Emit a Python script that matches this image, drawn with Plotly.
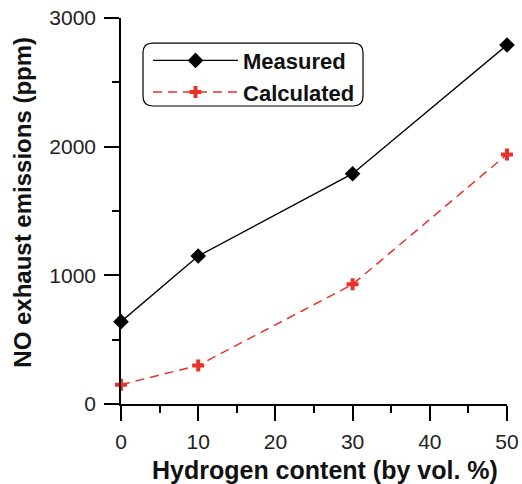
import plotly.graph_objects as go

hydrogen = [0, 10, 30, 50]
measured = [640, 1150, 1790, 2790]
calculated = [150, 300, 930, 1940]

x_ticks = [0, 10, 20, 30, 40, 50]
y_ticks = [0, 1000, 2000, 3000]

FONT = "Liberation Sans, Arial, Helvetica, sans-serif"
RED = "#e8322a"

fig = go.Figure()
fig.add_trace(go.Scatter(
    x=hydrogen, y=measured, name="Measured", mode="lines+markers",
    line=dict(color="black", width=1.4),
    marker=dict(symbol="diamond", size=12, color="black"),
    cliponaxis=False,
))
fig.add_trace(go.Scatter(
    x=hydrogen, y=calculated, name="Calculated", mode="lines+markers",
    line=dict(color=RED, width=1.5, dash="9px,6px"),
    marker=dict(symbol="cross", size=10, color=RED),
    cliponaxis=False,
))

axis_common = dict(
    showline=True, linecolor="black", linewidth=1.5,
    ticks="outside", ticklen=15, tickwidth=1.5, tickcolor="black",
    showgrid=False, zeroline=False, automargin=False,
    tickfont=dict(family=FONT, size=21, color="#222"),
)
fig.update_xaxes(range=[0, 50], tickvals=x_ticks, ticklabelstandoff=3,
                 minor=dict(dtick=5, ticks="outside", ticklen=7, tickwidth=1.5, tickcolor="black"),
                 **axis_common)
fig.update_yaxes(range=[0, 3000], tickvals=y_ticks, ticklabelstandoff=4,
                 minor=dict(dtick=500, ticks="outside", ticklen=7, tickwidth=1.5, tickcolor="black"),
                 **axis_common)

# rounded legend frame
def rounded_rect(x0, y0, x1, y1, rx, ry):
    return (f"M{x0+rx},{y0} L{x1-rx},{y0} Q{x1},{y0} {x1},{y0+ry} "
            f"L{x1},{y1-ry} Q{x1},{y1} {x1-rx},{y1} L{x0+rx},{y1} "
            f"Q{x0},{y1} {x0},{y1-ry} L{x0},{y0+ry} Q{x0},{y0} {x0+rx},{y0} Z")

fig.add_shape(type="path", xref="paper", yref="paper",
              path=rounded_rect(0.057, 0.772, 0.627, 0.935, 0.025, 0.025),
              line=dict(color="black", width=1.2))

fig.add_annotation(text="Hydrogen content (by vol. %)", xref="paper", yref="paper",
                   x=0.528, y=-0.172, xanchor="center", yanchor="middle", showarrow=False,
                   font=dict(family=FONT, size=25, color="#111", weight="bold"))
fig.add_annotation(text="NO exhaust emissions (ppm)", xref="paper", yref="paper",
                   x=-0.255, y=0.523, xanchor="center", yanchor="middle", showarrow=False,
                   textangle=-90,
                   font=dict(family=FONT, size=24, color="#111", weight="bold"))

fig.update_layout(
    width=522, height=484,
    margin=dict(l=121, r=15, t=18, b=80),
    plot_bgcolor="white", paper_bgcolor="white",
    showlegend=True,
    legend=dict(x=0.07, y=0.944, xanchor="left", yanchor="top",
                bgcolor="rgba(0,0,0,0)", borderwidth=0,
                font=dict(family=FONT, size=22, color="#111", weight="bold"),
                itemwidth=85, tracegroupgap=0),
)

fig.write_html("out.html")
